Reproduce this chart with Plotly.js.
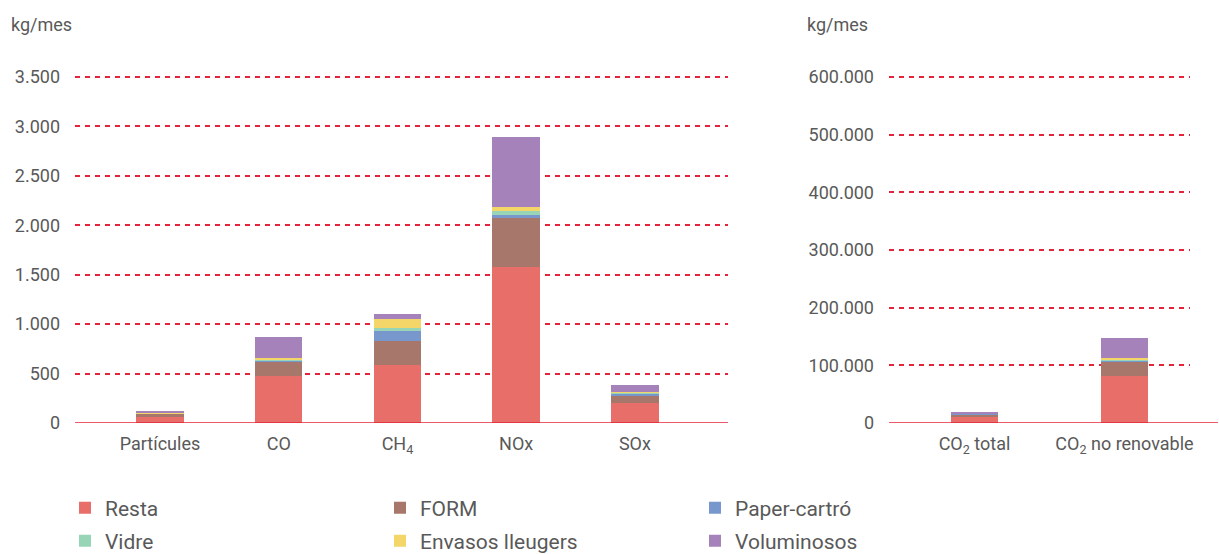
<!DOCTYPE html>
<html>
<head>
<meta charset="utf-8">
<script src="https://cdn.plot.ly/plotly-3.0.1.min.js"></script>
<style>html,body{margin:0;padding:0;background:#fff;}#chart{width:1219px;height:554px;}</style>
</head>
<body>
<div id="chart"></div>
<script>
// Categories
const categoriesLeft = ['Partícules', 'CO', 'CH<sub>4</sub>', 'NOx', 'SOx'];
const categoriesRight = ['CO<sub>2</sub> total', 'CO<sub>2</sub> no renovable'];
const seriesNames = ['Resta', 'FORM', 'Paper-cartró', 'Vidre', 'Envasos lleugers', 'Voluminosos'];
const seriesColors = ['#E86E6A', '#A8776C', '#7898CD', '#98D4B6', '#F4D567', '#A682BA'];

// Left chart values (kg/mes)
const restaLeft = [65, 475, 587, 1578, 202];
const formLeft = [30, 145, 243, 496, 71];
const paperLeft = [3, 12, 101, 30, 30];
const vidreLeft = [2, 10, 30, 40, 5];
const envasosLeft = [3, 20, 91, 40, 10];
const voluminososLeft = [15, 205, 51, 708, 71];

// Right chart values (kg/mes)
const restaRight = [10000, 81200];
const formRight = [5200, 24900];
const paperRight = [500, 1800];
const vidreRight = [300, 1700];
const envasosRight = [500, 3500];
const voluminososRight = [2500, 34800];

// Tick values
const leftTicks = [0, 500, 1000, 1500, 2000, 2500, 3000, 3500];
const rightTicks = [0, 100000, 200000, 300000, 400000, 500000, 600000];

const leftSeries = [restaLeft, formLeft, paperLeft, vidreLeft, envasosLeft, voluminososLeft];
const rightSeries = [restaRight, formRight, paperRight, vidreRight, envasosRight, voluminososRight];

const W = 1219, H = 554;
const FONT = 'Roboto, "Liberation Sans", sans-serif';
const GRAY = '#595959';
const RED = '#E5243B';

const traces = [];
seriesNames.forEach((name, i) => {
  traces.push({
    type: 'bar', name: name, x: categoriesLeft, y: leftSeries[i],
    xaxis: 'x', yaxis: 'y', width: 0.4,
    marker: {color: seriesColors[i], line: {width: 0}},
    legendgroup: name, legend: i < 3 ? 'legend' : 'legend2',
    hoverinfo: 'name+y'
  });
});
seriesNames.forEach((name, i) => {
  traces.push({
    type: 'bar', name: name, x: categoriesRight, y: rightSeries[i],
    xaxis: 'x2', yaxis: 'y2', width: 0.313,
    marker: {color: seriesColors[i], line: {width: 0}},
    legendgroup: name, showlegend: false,
    hoverinfo: 'name+y'
  });
});

const px = v => v / W;
const plotTop = 75, plotBottom = 423;
const plotH = plotBottom - plotTop;
const yAxisCommon = {
  showgrid: true, gridcolor: RED, gridwidth: 1.5, griddash: '5px,5px',
  zeroline: false, showline: false, ticks: '', tickformat: ',d',
  tickfont: {family: FONT, size: 18, color: GRAY}, ticklabelstandoff: 14,
  fixedrange: true
};
const xAxisCommon = {
  type: 'category', showgrid: false, zeroline: false, showline: false, ticks: '',
  tickfont: {family: FONT, size: 18, color: GRAY}, ticklabelstandoff: 8,
  fixedrange: true
};

const legendCommon = {
  orientation: 'h', entrywidth: 270, entrywidthmode: 'pixels',
  font: {family: FONT, size: 21, color: GRAY}, bgcolor: 'rgba(0,0,0,0)',
  xref: 'container', yref: 'container',
  xanchor: 'left', yanchor: 'middle', itemclick: false, itemdoubleclick: false
};

const layout = {
  width: W, height: H,
  margin: {l: 0, r: 0, t: plotTop, b: H - plotBottom, pad: 0},
  paper_bgcolor: '#fff', plot_bgcolor: '#fff',
  barmode: 'stack', separators: ',.',
  font: {family: FONT, color: GRAY},
  showlegend: true,
  xaxis: Object.assign({}, xAxisCommon, {domain: [px(75), px(728)], range: [-0.716, 4.784], anchor: 'y'}),
  yaxis: Object.assign({}, yAxisCommon, {domain: [0, 1], range: [0, 3500 * plotH / 346], tickvals: leftTicks, anchor: 'x'}),
  xaxis2: Object.assign({}, xAxisCommon, {domain: [px(889), px(1190)], range: [-0.57, 1.437], anchor: 'y2'}),
  yaxis2: Object.assign({}, yAxisCommon, {domain: [0, 1], range: [0, 600000 * plotH / 346], tickvals: rightTicks, anchor: 'x2'}),
  legend: Object.assign({}, legendCommon, {x: px(65), y: 1 - 508 / H}),
  legend2: Object.assign({}, legendCommon, {x: px(65), y: 1 - 541 / H}),
  shapes: [
    {type: 'line', xref: 'x domain', yref: 'y', x0: 0, x1: 1, y0: 0, y1: 0, line: {color: RED, width: 1.6}},
    {type: 'line', xref: 'x2 domain', yref: 'y2', x0: 0, x1: (1218 - 889) / (1190 - 889), y0: 0, y1: 0, line: {color: RED, width: 1.6}}
  ],
  annotations: [
    {text: 'kg/mes', xref: 'paper', yref: 'paper', x: px(9), y: (plotBottom - 25) / plotH, xanchor: 'left', yanchor: 'middle', showarrow: false, font: {family: FONT, size: 18, color: GRAY}},
    {text: 'kg/mes', xref: 'paper', yref: 'paper', x: px(805), y: (plotBottom - 25) / plotH, xanchor: 'left', yanchor: 'middle', showarrow: false, font: {family: FONT, size: 18, color: GRAY}}
  ]
};

Plotly.newPlot('chart', traces, layout, {displayModeBar: false, responsive: false});
</script>
</body>
</html>
